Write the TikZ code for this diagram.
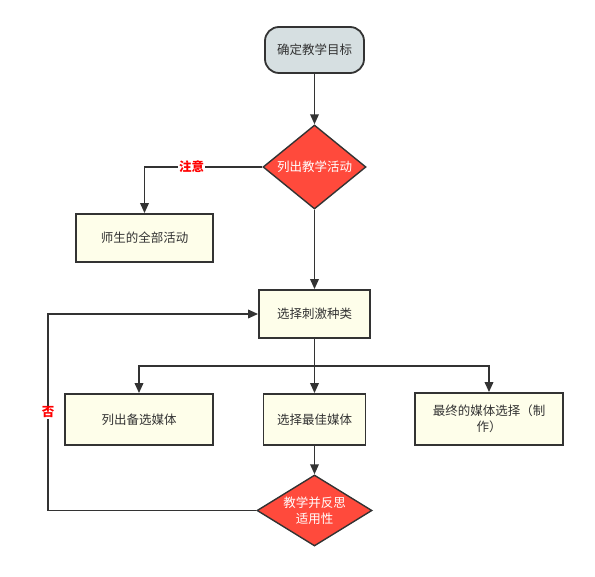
\documentclass[tikz,border=0pt]{standalone}
\usepackage{fontspec}
\setmainfont{Noto Sans CJK SC}
\usetikzlibrary{shapes.geometric,arrows.meta}
\definecolor{lineC}{HTML}{333333}
\definecolor{boxF}{HTML}{FEFEEA}
\definecolor{startF}{HTML}{D6DFE1}
\definecolor{redF}{HTML}{FF4A3C}
\tikzset{
  every node/.style={font=\fontsize{12.5}{16}\selectfont, text=lineC},
  stepbox/.style={draw=lineC, line width=1.8pt, fill=boxF, rectangle, inner sep=0pt, align=center},
  startbox/.style={draw=lineC, line width=1.8pt, fill=startF, rectangle, rounded corners=14pt, inner sep=0pt},
  decide/.style={draw=lineC, line width=1.4pt, fill=redF, diamond, inner sep=0pt, text=white, align=center},
  conn/.style={draw=lineC, line width=1.8pt, -{Triangle[length=10pt,width=8.5pt]}},
  plain/.style={draw=lineC, line width=1.8pt},
  lab/.style={fill=white, text=red, font=\fontsize{12.5}{16}\selectfont\bfseries, inner sep=1pt}
}
\begin{document}
\begin{tikzpicture}[x=1pt,y=-1pt]
\useasboundingbox (0,0) rectangle (595,577);
\node[startbox, minimum width=99pt, minimum height=46pt] (start) at (314.5,50) {确定教学目标};
\node[decide, aspect=1.23, minimum width=103pt, minimum height=84pt] (d1) at (314.5,167) {列出教学活动};
\node[stepbox, minimum width=137pt, minimum height=48pt] (all) at (144.5,238) {师生的全部活动};
\node[stepbox, minimum width=111pt, minimum height=48pt] (kind) at (314.5,314) {选择刺激种类};
\node[stepbox, minimum width=148pt, minimum height=51pt] (list) at (139,419.5) {列出备选媒体};
\node[stepbox, minimum width=102pt, minimum height=51pt] (best) at (314.5,419.5) {选择最佳媒体};
\node[stepbox, minimum width=148pt, minimum height=52pt] (final) at (489,419) {最终的媒体选择（制\\作）};
\node[decide, aspect=1.62, minimum width=115pt, minimum height=71pt] (d2) at (314.5,510.5) {教学并反思\\适用性};
\coordinate (split) at (314.5,366);
\coordinate (loopB) at (48,510.5);
\coordinate (loopT) at (48,314);

\draw[conn] (start) -- (d1);
\draw[conn] (d1.west) -| node[lab, pos=0.3] {注意} (all.north);
\draw[conn] (d1) -- (kind);
\draw[plain] (kind.south) -- (split);
\draw[conn] (split) -| (list.north);
\draw[conn] (split) -| (final.north);
\draw[conn] (split) -- (best.north);
\draw[conn] (best) -- (d2);
\draw[plain] (d2.west) -- (loopB);
\draw[conn] (loopB) -- node[lab, pos=0.5] {否} (loopT) -- (kind.west);
\end{tikzpicture}
\end{document}
